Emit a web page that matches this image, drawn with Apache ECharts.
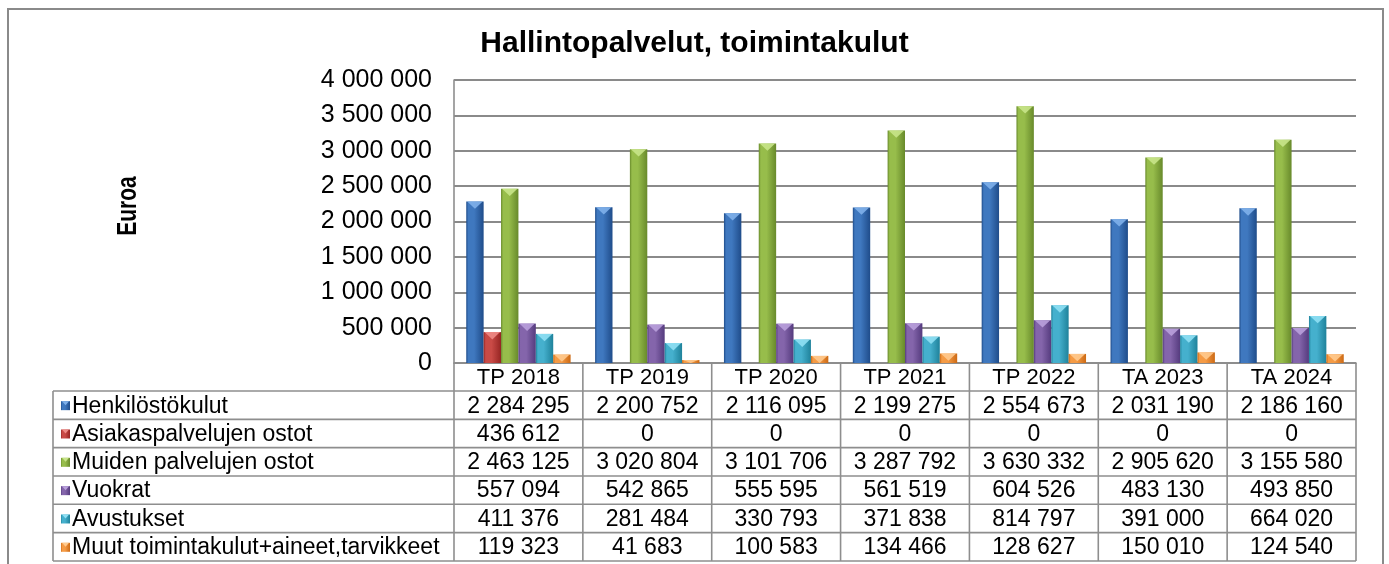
<!DOCTYPE html>
<html><head><meta charset="utf-8">
<script src="https://cdn.jsdelivr.net/npm/echarts/dist/echarts.min.js"></script>
<style>html,body{margin:0;padding:0;background:#fff}#c{width:1389px;height:564px}</style>
</head><body><div id="c"></div>
<script>
// ---- data ----
const categories = ['TP 2018','TP 2019','TP 2020','TP 2021','TP 2022','TA 2023','TA 2024'];
const seriesNames = ['Henkilöstökulut','Asiakaspalvelujen ostot','Muiden palvelujen ostot','Vuokrat','Avustukset','Muut toimintakulut+aineet,tarvikkeet'];
const henkilostokulut = [2284295,2200752,2116095,2199275,2554673,2031190,2186160];
const asiakaspalvelujenOstot = [436612,0,0,0,0,0,0];
const muidenPalvelujenOstot = [2463125,3020804,3101706,3287792,3630332,2905620,3155580];
const vuokrat = [557094,542865,555595,561519,604526,483130,493850];
const avustukset = [411376,281484,330793,371838,814797,391000,664020];
const muutToimintakulut = [119323,41683,100583,134466,128627,150010,124540];
const yMin = 0, yMax = 4000000, yStep = 500000;
const seriesValues = [henkilostokulut, asiakaspalvelujenOstot, muidenPalvelujenOstot, vuokrat, avustukset, muutToimintakulut];

// ---- styles ----
const palette = [
  {dark:'#1f4c8a', mid:'#3f78bf', cap:'#7fb0ea'},
  {dark:'#962523', mid:'#c94a46', cap:'#ee8a85'},
  {dark:'#688a2b', mid:'#97bd4b', cap:'#c8e48a'},
  {dark:'#553b7e', mid:'#8465ab', cap:'#b9a0dc'},
  {dark:'#1f829b', mid:'#45b0cd', cap:'#8fe0f4'},
  {dark:'#cc6a15', mid:'#f59b45', cap:'#ffca8e'}
];
const FONT = 'Liberation Sans, Arial, sans-serif';
const GRID_L = 454, GRID_R = 1356, GRID_T = 80, GRID_B = 363;
const CAT_GAP = 0.19;
const fmt = n => String(n).replace(/\B(?=(\d{3})+(?!\d))/g, ' ');
const grad = p => new echarts.graphic.LinearGradient(0,0,1,0,[
  {offset:0,color:p.dark},{offset:0.12,color:p.mid},{offset:0.45,color:p.mid},{offset:1,color:p.dark}]);

function makeRender(si){
  return function(params, api){
    const ci = api.value(0), v = api.value(1);
    if (!v) return null;
    const top = api.coord([ci, v]);
    const base = api.coord([ci, 0]);
    const band = api.size([1,0])[0];
    const groupW = band*(1-CAT_GAP);
    const bw = groupW/6;
    const x = top[0] - groupW/2 + si*bw;
    const h = base[1]-top[1];
    const capH = Math.min(bw*0.42, h);
    const p = palette[si];
    return {type:'group', children:[
      {type:'rect', shape:{x:x, y:top[1], width:bw, height:h}, style:{fill:grad(p)}},
      {type:'polygon', shape:{points:[[x+1,top[1]],[x+bw-1,top[1]],[x+bw/2,top[1]+capH]]}, style:{fill:p.cap, opacity:0.9}}
    ]};
  };
}

const series = seriesValues.map((vals, si) => ({
  type:'custom', name: seriesNames[si],
  renderItem: makeRender(si),
  encode:{x:0, y:1},
  data: vals.map((v,i)=>[i,v]),
  z: 3
}));

// ---- table graphic ----
const g = [];
const LINE = '#8e8e8e';
const band = (GRID_R-GRID_L)/categories.length;
const TBL_L = 53, HDR_T = GRID_B, HDR_B = 391, ROW_H = 28.33;
const TBL_B = HDR_B + ROW_H*seriesNames.length;
const hl = (x1,x2,y)=>g.push({type:'line',silent:true,shape:{x1:x1,y1:y,x2:x2,y2:y},style:{stroke:LINE,lineWidth:1.6}});
const vl = (x,y1,y2)=>g.push({type:'line',silent:true,shape:{x1:x,y1:y1,x2:x,y2:y2},style:{stroke:LINE,lineWidth:1.6}});
hl(GRID_L, GRID_R, HDR_B);
hl(TBL_L, GRID_L, HDR_B);
for (let k=1;k<=seriesNames.length;k++) hl(TBL_L, GRID_R, HDR_B + k*ROW_H);
vl(TBL_L, HDR_B, TBL_B);
for (let j=0;j<=categories.length;j++) vl(GRID_L + j*band, HDR_T, TBL_B);
categories.forEach((c,j)=>g.push({type:'text',silent:true,x:GRID_L+(j+0.5)*band,y:(HDR_T+HDR_B)/2+1,
  style:{text:c,fill:'#000',font:'22px '+FONT,textAlign:'center',textVerticalAlign:'middle'}}));
seriesNames.forEach((nm,si)=>{
  const cy = HDR_B + (si+0.5)*ROW_H + 1;
  const p = palette[si];
  g.push({type:'rect',silent:true,shape:{x:61,y:cy-5,width:9,height:9},style:{fill:grad(p)}});
  g.push({type:'polygon',silent:true,shape:{points:[[62,cy-5],[69,cy-5],[65.5,cy-1]]},style:{fill:p.cap}});
  g.push({type:'text',silent:true,x:72,y:cy,style:{text:nm,fill:'#000',font:'23px '+FONT,textAlign:'left',textVerticalAlign:'middle'}});
  seriesValues[si].forEach((v,j)=>g.push({type:'text',silent:true,x:GRID_L+(j+0.5)*band,y:cy,
    style:{text:fmt(v),fill:'#000',font:'23px '+FONT,textAlign:'center',textVerticalAlign:'middle'}}));
});
// outer border
g.push({type:'rect',silent:true,z:-1,shape:{x:8,y:9,width:1375,height:600},style:{fill:'none',stroke:'#8a8a8a',lineWidth:2}});
// y axis name
g.push({type:'text',silent:true,x:128,y:206,rotation:Math.PI/2,scaleY:1.3,
  style:{text:'Euroa',fill:'#000',font:'bold 21px '+FONT,textAlign:'center',textVerticalAlign:'middle'}});

const chart = echarts.init(document.getElementById('c'), null, {renderer:'canvas'});
chart.setOption({
  animation:false,
  backgroundColor:'#fff',
  title:{text:'Hallintopalvelut, toimintakulut', left:'center', top:24,
    textStyle:{fontFamily:FONT, fontWeight:'bold', fontSize:30, color:'#000'}},
  grid:{left:GRID_L, right:1389-GRID_R, top:GRID_T, bottom:564-GRID_B, containLabel:false},
  xAxis:{type:'category', data:categories, boundaryGap:true,
    axisLine:{show:true, lineStyle:{color:LINE, width:1.6}},
    axisTick:{show:false}, axisLabel:{show:false}},
  yAxis:{type:'value', min:yMin, max:yMax, interval:yStep,
    axisLine:{show:true, lineStyle:{color:LINE, width:1.6}},
    axisTick:{show:false},
    splitLine:{show:true, lineStyle:{color:'#8a8a8a', width:1.8}},
    axisLabel:{formatter:v=>fmt(v), margin:22, color:'#000', fontFamily:FONT, fontSize:25}},
  series: series,
  graphic: g
});
</script></body></html>
